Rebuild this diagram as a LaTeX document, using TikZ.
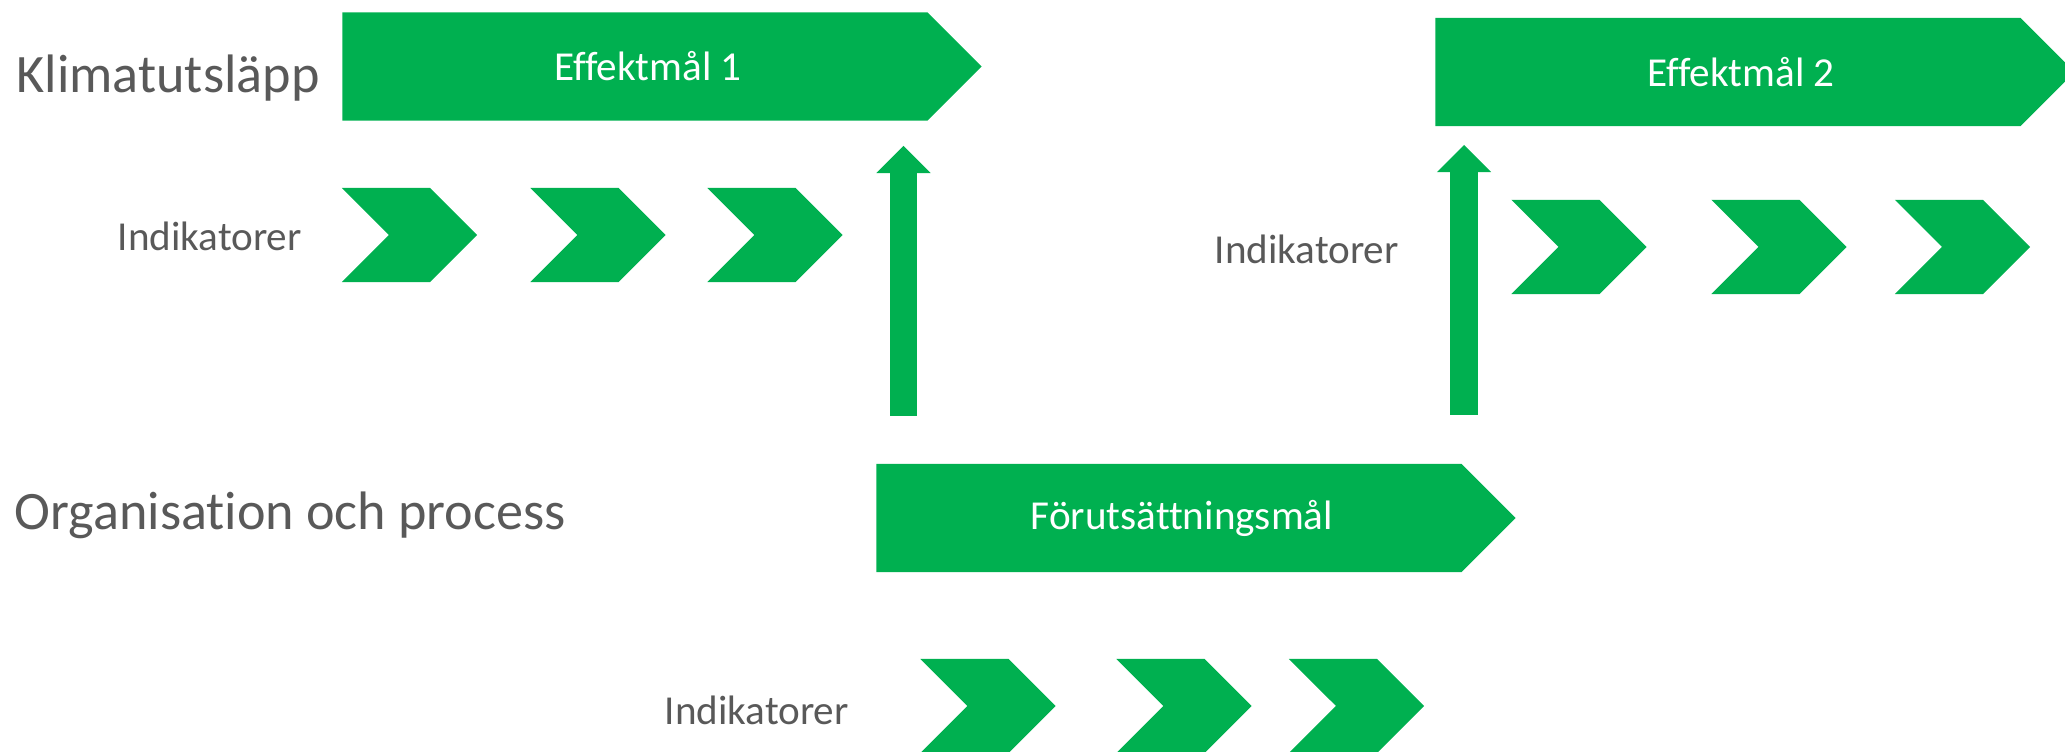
\documentclass[tikz,border=0pt]{standalone}
\usepackage{fontspec}
\setmainfont{Carlito}[Ligatures=NoCommon]
\usepackage{xcolor}
\usepackage{tikz}
\usetikzlibrary{arrows.meta,positioning,shapes.symbols}

\definecolor{goalgreen}{HTML}{00B050}
\definecolor{labelgray}{HTML}{595959}

\begin{document}
\begin{tikzpicture}[
    x=0.01cm, y=-0.01cm,
    goal/.style={signal, signal to=east, fill=goalgreen, draw=none,
                 minimum width=6.39cm, minimum height=1.08cm,
                 inner sep=0pt, outer sep=0pt},
    chevron/.style={signal, signal from=west, signal to=east,
                    fill=goalgreen, draw=none,
                    minimum width=1.35cm, minimum height=0.94cm,
                    inner sep=0pt, outer sep=0pt},
    goaltext/.style={text=white, font=\fontsize{11.7}{14}\selectfont},
    heading/.style={text=labelgray, font=\fontsize{15.4}{18}\selectfont, inner sep=0pt},
    indtext/.style={text=labelgray, font=\fontsize{11.7}{14}\selectfont, inner sep=0pt},
    uparrow/.style={draw=goalgreen, line width=0.27cm,
                    -{Triangle[length=0.27cm, width=0.54cm, line width=0pt]}}
]
\useasboundingbox (0,0) rectangle (2065,752);

% Row labels
\node[heading, anchor=base west] (klimat) at (16,93) {Klimatutsläpp};
\node[heading, anchor=base west] (org) at (14,530) {Organisation och process};

% Goals
\node[goal, label={[goaltext, xshift=0.13cm]center:Effektmål 1}] (eff1) at (635,66.5) {};
\node[goal, label={[goaltext, xshift=0.13cm]center:Effektmål 2}] (eff2) at (1728,72) {};
\node[goal, label={[goaltext, xshift=0.13cm]center:Förutsättningsmål}] (forut) at (1169,518) {};

% Indicators, top left
\node[indtext, anchor=base west] (ind1) at (117,251) {Indikatorer};
\node[chevron] (c11) at (409.5,235) {};
\node[chevron] (c12) at (598,235) {};
\node[chevron] (c13) at (775,235) {};

% Indicators, top right
\node[indtext, anchor=base west] (ind2) at (1214,264) {Indikatorer};
\node[chevron] (c21) at (1579,247) {};
\node[chevron] (c22) at (1779,247) {};
\node[chevron] (c23) at (1962.5,247) {};

% Indicators, bottom
\node[indtext, anchor=base west] (ind3) at (664,725) {Indikatorer};
\node[chevron] (c31) at (988,706) {};
\node[chevron] (c32) at (1184,706) {};
\node[chevron] (c33) at (1356.5,706) {};

% Links up to the goals
\coordinate (foot1) at (903.5,416);
\coordinate (tip1) at (903.5,146);
\coordinate (foot2) at (1464,415);
\coordinate (tip2) at (1464,145);
\draw[uparrow] (foot1) -- (tip1);
\draw[uparrow] (foot2) -- (tip2);

\end{tikzpicture}
\end{document}
